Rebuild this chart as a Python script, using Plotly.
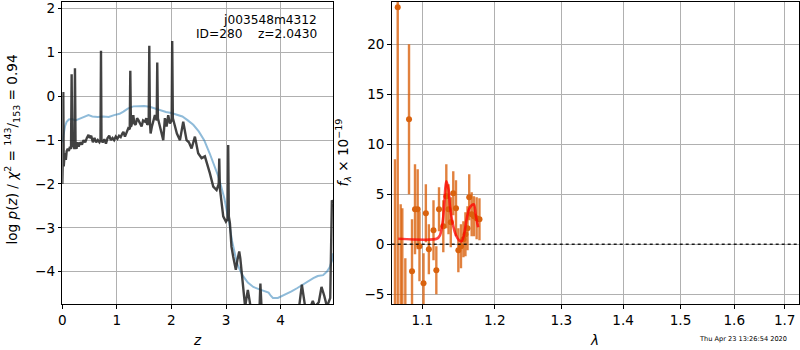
import plotly.graph_objects as go

# ---------------- Left panel: redshift probability ----------------
z_pz = [0.000, 0.008, 0.018, 0.026, 0.035, 0.050, 0.065, 0.080, 0.100, 0.120, 0.140, 0.160, 0.171, 0.182,
        0.200, 0.222, 0.232, 0.243, 0.260, 0.280, 0.300, 0.330, 0.360, 0.390, 0.420, 0.450, 0.480, 0.500,
        0.530, 0.560, 0.590, 0.620, 0.650, 0.680, 0.700, 0.709, 0.718, 0.740, 0.770, 0.800, 0.830, 0.860,
        0.890, 0.920, 0.950, 0.980, 1.010, 1.040, 1.070, 1.100, 1.120, 1.148, 1.180, 1.209, 1.236, 1.246,
        1.258, 1.271, 1.301, 1.320, 1.344, 1.370, 1.392, 1.420, 1.453, 1.480, 1.514, 1.540, 1.557, 1.583,
        1.594, 1.606, 1.618, 1.640, 1.667, 1.697, 1.730, 1.740, 1.752, 1.770, 1.807, 1.850, 1.880, 1.911,
        1.941, 1.972, 2.004, 2.014, 2.026, 2.050, 2.064, 2.100, 2.156, 2.190, 2.216, 2.277, 2.320, 2.369,
        2.430, 2.490, 2.552, 2.613, 2.643, 2.705, 2.766, 2.827, 2.866, 2.876, 2.888, 2.919, 2.949, 2.998,
        3.030, 3.040, 3.052, 3.071, 3.100, 3.132, 3.180, 3.210, 3.242, 3.262, 3.290, 3.350, 3.400, 3.450,
        3.550, 3.615, 3.630, 3.650, 3.700, 4.000, 4.330, 4.390, 4.450, 4.550, 4.590, 4.630, 4.700, 4.750,
        4.800, 4.850, 4.910, 4.940, 4.966]
logp = [-2.00, -1.50, 0.10, -1.60, -1.45, -1.30, -1.45, -1.25, -1.20, -1.25, -1.15, -1.20, 0.50, -1.15,
        -1.10, -1.20, 0.64, -1.10, -1.20, -1.05, -1.15, -1.05, -1.10, -1.00, -1.05, -0.95, -0.88, -0.95,
        -0.90, -1.05, -0.95, -1.05, -1.00, -1.05, -1.00, 1.04, -1.00, -1.05, -0.98, -1.08, -0.95, -0.90,
        -1.00, -0.95, -1.00, -0.92, -0.97, -0.90, -0.93, -0.85, -0.81, -0.92, -0.80, -0.73, -0.75, 0.58,
        -0.70, -0.65, -0.43, -0.62, -0.65, -0.50, -0.54, -0.62, -0.69, -0.55, -0.58, -0.50, -0.65, -0.60,
        1.15, -0.60, -0.85, -0.70, -0.58, -0.43, -0.55, 0.77, -0.50, -0.58, -0.77, -1.00, -0.50, -0.69,
        -0.43, -0.62, -0.55, 1.26, -0.50, -0.62, -0.69, -0.85, -1.00, -0.80, -0.58, -1.00, -1.05, -1.19,
        -0.92, -1.30, -1.41, -1.37, -1.49, -1.76, -2.06, -2.14, -2.00, -1.42, -2.10, -2.37, -2.74, -2.86,
        -2.80, -1.11, -2.75, -2.89, -3.43, -3.66, -3.96, -3.73, -3.54, -3.70, -4.04, -4.80, -4.42, -4.80,
        -4.90, -4.80, -4.27, -4.80, -5.00, -5.00, -4.90, -4.30, -4.80, -4.80, -4.67, -4.80, -4.70, -4.35,
        -4.55, -4.80, -4.60, -2.37, -2.45]

z_prior = [0.00, 0.02, 0.05, 0.08, 0.12, 0.18, 0.24, 0.30, 0.40, 0.48, 0.55, 0.65, 0.75, 0.85, 0.95, 1.05,
           1.12, 1.20, 1.30, 1.40, 1.50, 1.60, 1.70, 1.80, 1.90, 2.00, 2.10, 2.20, 2.30, 2.40, 2.50, 2.60,
           2.70, 2.78, 2.86, 2.92, 2.97, 3.02, 3.06, 3.11, 3.16, 3.20, 3.25, 3.30, 3.40, 3.50, 3.60, 3.70,
           3.78, 3.82, 3.86, 3.95, 4.02, 4.10, 4.20, 4.30, 4.40, 4.50, 4.60, 4.68, 4.78, 4.85, 4.90, 4.94, 4.966]
logp_prior = [-1.05, -0.85, -0.68, -0.58, -0.53, -0.52, -0.55, -0.52, -0.46, -0.43, -0.46, -0.47, -0.46,
              -0.47, -0.43, -0.40, -0.35, -0.28, -0.23, -0.22, -0.22, -0.24, -0.28, -0.33, -0.36, -0.38,
              -0.42, -0.46, -0.55, -0.65, -0.80, -1.00, -1.30, -1.55, -1.83, -2.10, -2.33, -2.65, -2.90,
              -3.30, -3.60, -3.80, -3.95, -4.08, -4.25, -4.35, -4.40, -4.44, -4.48, -4.55, -4.60, -4.60,
              -4.56, -4.50, -4.45, -4.38, -4.30, -4.22, -4.15, -4.10, -4.08, -4.00, -3.90, -3.75, -3.58]

# ---------------- Right panel: spectrum ----------------
lam_obs = [1.0645, 1.0680, 1.0718, 1.0739, 1.0778, 1.0826, 1.0865, 1.0904, 1.0939, 1.0963, 1.1016, 1.1047,
           1.1087, 1.1149, 1.1187, 1.1223, 1.1281, 1.1322, 1.1352, 1.1383, 1.1417, 1.1454, 1.1487, 1.1523,
           1.1557, 1.1585, 1.1614, 1.1638, 1.1672, 1.1704, 1.1742, 1.1782]
flux_obs = [-10.0, 23.7, -12.0, -10.0, -9.0, 12.5, -2.7, 3.5, 3.5, -0.2, -3.9, 3.1,
            -0.5, 1.4, -2.6, 3.5, 1.8, 4.8, 3.5, 2.2, 5.1, 3.6, -0.6, -0.2,
            0.5, 1.0, 1.6, 4.7, 3.0, 2.8, 2.6, 2.5]
err_obs = [18.5, 32.0, 16.0, 13.6, 7.6, 7.5, 5.2, 4.5, 4.0, 3.5, 3.0, 2.9,
           2.5, 3.0, 2.4, 2.2, 2.6, 3.2, 2.5, 2.5, 2.2, 2.8, 2.2, 2.2,
           1.8, 2.2, 2.2, 2.3, 2.2, 2.0, 2.1, 2.1]

lam_model = [1.0687, 1.1192, 1.1236, 1.1277, 1.1322, 1.1352, 1.1372, 1.1417, 1.1454, 1.1496, 1.1533,
             1.1564, 1.1599, 1.1634, 1.1672, 1.1704, 1.1732, 1.1764]
flux_model = [0.55, 0.55, 0.9, 2.5, 6.3, 5.5, 3.8, 1.8, 0.9, 0.4, 0.3, 0.9, 2.4, 3.5, 3.9, 4.0, 2.8, 1.7]

xticks_left = [0, 1, 2, 3, 4]
yticks_left = [-4, -3, -2, -1, 0, 1, 2]
xticks_right = [1.1, 1.2, 1.3, 1.4, 1.5, 1.6, 1.7]
yticks_right = [-5, 0, 5, 10, 15, 20]


def lab(v):
    s = f"{v:g}"
    return s.replace("-", "\u2212")


FONT = "DejaVu Sans"
GRID = "#b0b0b0"
W, H = 800, 350

fig = go.Figure()

fig.add_trace(go.Scatter(x=z_prior, y=logp_prior, mode="lines",
                         line=dict(color="rgba(31,119,180,0.5)", width=2),
                         xaxis="x", yaxis="y", showlegend=False))
fig.add_trace(go.Scatter(x=z_pz, y=logp, mode="lines",
                         line=dict(color="rgba(40,40,40,0.88)", width=2.4),
                         xaxis="x", yaxis="y", showlegend=False))

fig.add_trace(go.Scatter(x=lam_obs, y=flux_obs, mode="markers",
                         marker=dict(color="rgb(217,98,14)", size=6),
                         error_y=dict(type="data", array=err_obs, visible=True,
                                      color="rgba(217,98,14,0.8)", thickness=2.4, width=0),
                         xaxis="x2", yaxis="y2", showlegend=False))
fig.add_trace(go.Scatter(x=lam_model, y=flux_model, mode="lines",
                         line=dict(color="rgba(255,0,0,0.75)", width=2.6, shape="spline", smoothing=0.7),
                         xaxis="x2", yaxis="y2", showlegend=False))

axis_common = dict(showline=True, mirror=True, linecolor="black", linewidth=1,
                   ticks="outside", ticklen=3.5, tickwidth=0.8, tickcolor="black",
                   showgrid=True, gridcolor=GRID, gridwidth=0.8, zeroline=False,
                   automargin=False,
                   tickfont=dict(family=FONT, size=13.6, color="black"))

ydom = [1 - 304 / H, 1 - 1.7 / H]

fig.update_layout(
    width=W, height=H,
    margin=dict(l=0, r=0, t=0, b=0, pad=0),
    paper_bgcolor="white", plot_bgcolor="white",
    font=dict(family=FONT, color="black"),
    xaxis=dict(domain=[62.3 / W, 333.3 / W], range=[0, 4.966], anchor="y",
               tickvals=xticks_left, ticktext=[lab(v) for v in xticks_left], **axis_common),
    yaxis=dict(domain=ydom, range=[-4.739, 2.158], anchor="x",
               tickvals=yticks_left, ticktext=[lab(v) for v in yticks_left], **axis_common),
    xaxis2=dict(domain=[391.7 / W, 799 / W], type="log", range=[0.02543, 0.23791], anchor="y2",
                tickvals=xticks_right, ticktext=[lab(v) for v in xticks_right], **axis_common),
    yaxis2=dict(domain=ydom, range=[-5.97, 24.26], anchor="x2",
                tickvals=yticks_right, ticktext=[lab(v) for v in yticks_right], **axis_common),
)

# zero line on the spectrum panel
fig.add_shape(type="line", xref="x2 domain", yref="y2", x0=0, x1=1, y0=0, y1=0,
              line=dict(color="rgba(0,0,0,0.85)", width=1.6, dash="dot"))

ann = []
ann.append(dict(text="log <i>p</i>(<i>z</i>) / <i>χ</i><sup>2</sup> = <sup>143</sup>/<sub>153</sub> = 0.94",
                x=12.5 / W, y=1 - 150 / H, xref="paper", yref="paper", textangle=-90,
                xanchor="center", yanchor="middle",
                showarrow=False, font=dict(family=FONT, size=13.6)))
ann.append(dict(text="<i>z</i>", x=197 / W, y=1 - 340 / H, xref="paper", yref="paper",
                xanchor="center", yanchor="middle",
                showarrow=False, font=dict(family=FONT, size=13.6)))
ann.append(dict(text="<i>λ</i>", x=594.3 / W, y=1 - 340 / H, xref="paper", yref="paper",
                xanchor="center", yanchor="middle",
                showarrow=False, font=dict(family=FONT, size=13.6)))
ann.append(dict(text="<i>f</i><sub><i>λ</i></sub> × 10<sup>−19</sup>", x=343.5 / W, y=1 - 153 / H,
                xref="paper", yref="paper", textangle=-90, xanchor="center", yanchor="middle",
                showarrow=False, font=dict(family=FONT, size=13.6)))
ann.append(dict(text="j003548m4312", x=318.5 / W, y=1 - 20 / H, xref="paper", yref="paper",
                xanchor="right", yanchor="middle", showarrow=False, font=dict(family=FONT, size=12.2)))
ann.append(dict(text="ID=280    z=2.0430", x=318.5 / W, y=1 - 34 / H, xref="paper", yref="paper",
                xanchor="right", yanchor="middle", showarrow=False, font=dict(family=FONT, size=12.2)))
ann.append(dict(text="Thu Apr 23 13:26:54 2020", x=696.7 / W, y=1 - 339 / H, xref="paper", yref="paper",
                xanchor="left", yanchor="middle", showarrow=False, font=dict(family=FONT, size=6.6)))
fig.update_layout(annotations=ann)

fig.write_html("out.html")
